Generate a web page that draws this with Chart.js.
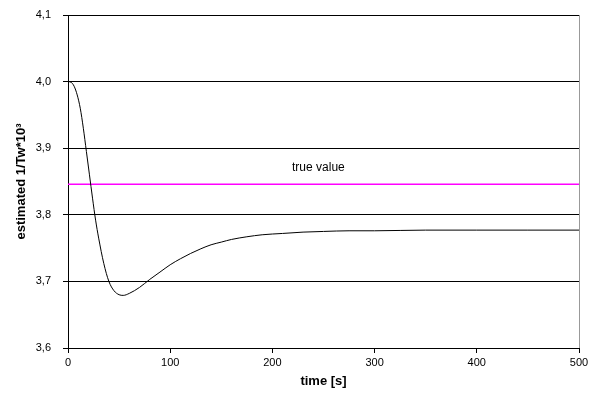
<!DOCTYPE html>
<html>
<head>
<meta charset="utf-8">
<script src="https://cdn.jsdelivr.net/npm/chart.js@4"></script>
<style>
  html, body { margin: 0; padding: 0; background: #fff; }
  #wrap { width: 599px; height: 403px; }
</style>
</head>
<body>
<div id="wrap"><canvas id="myChart" width="599" height="403"></canvas></div>
<script>
// estimate of 1/Tw*10^3 over time
var times = [0, 3, 6, 9, 12, 15, 18, 21, 24, 27, 30, 35, 40, 45, 50, 54, 60, 70, 80, 90,
             100, 110, 120, 130, 140, 150, 160, 175, 190, 210, 230, 250, 275, 300, 350, 400, 450, 500];
var estimate = [4.000, 3.999, 3.993, 3.980, 3.960, 3.930, 3.895, 3.860, 3.825, 3.792, 3.765, 3.727, 3.700, 3.686, 3.680, 3.679, 3.682, 3.691, 3.703, 3.714,
                3.725, 3.734, 3.742, 3.749, 3.755, 3.759, 3.763, 3.767, 3.770, 3.772, 3.774, 3.775, 3.776, 3.776, 3.777, 3.777, 3.777, 3.777];
var trueValue = 3.846;
var trueLabel = "true value";
var trueLabelAt = [245, 3.870];
var xTicks = [0, 100, 200, 300, 400, 500];
var yTicks = [3.6, 3.7, 3.8, 3.9, 4.0, 4.1];

var pts = times.map(function (t, i) { return {x: t, y: estimate[i]}; });

var extras = {
    id: 'extras',
    afterDatasetsDraw: function (chart) {
        var c = chart.ctx, a = chart.chartArea;
        var xs = chart.scales.x, ys = chart.scales.y;
        c.save();
        // plot border on the right
        c.strokeStyle = '#999';
        c.lineWidth = 1;
        c.beginPath();
        c.moveTo(a.right + 0.5, a.top);
        c.lineTo(a.right + 0.5, a.bottom);
        c.stroke();
        // label of the true value line
        c.fillStyle = '#000';
        c.font = '12px "Liberation Sans", Arial, sans-serif';
        c.textAlign = 'center';
        c.textBaseline = 'middle';
        c.fillText(trueLabel, xs.getPixelForValue(trueLabelAt[0]), ys.getPixelForValue(trueLabelAt[1]));
        c.restore();
    }
};

var ctx = document.getElementById("myChart");
var myChart = new Chart(ctx, {
    type: 'line',
    data: {
        datasets: [{
            data: pts,
            borderColor: '#000',
            borderWidth: 1,
            pointRadius: 0,
            cubicInterpolationMode: 'monotone',
            fill: false
        }, {
            data: [{x: 0, y: trueValue}, {x: 500, y: trueValue}],
            borderColor: '#ff00ff',
            borderWidth: 1.5,
            pointRadius: 0,
            fill: false
        }]
    },
    options: {
        responsive: false,
        animation: false,
        layout: { padding: { left: 14, right: 20, top: 15, bottom: 14 } },
        plugins: {
            legend: { display: false },
            tooltip: { enabled: false }
        },
        scales: {
            x: {
                type: 'linear',
                min: 0, max: 500,
                afterBuildTicks: function (s) { s.ticks = xTicks.map(function (v) { return {value: v}; }); },
                afterFit: function (s) { s.height = 41; s.paddingLeft = 0; s.paddingRight = 0; },
                grid: { drawOnChartArea: false, color: '#000', tickLength: 5 },
                border: { color: '#000' },
                ticks: {
                    color: '#000', padding: 3, maxRotation: 0,
                    font: { family: '"Liberation Sans", Arial, sans-serif', size: 11 }
                },
                title: {
                    display: true, text: 'time [s]', color: '#000', padding: { top: 2, bottom: 0 },
                    font: { family: '"Liberation Sans", Arial, sans-serif', size: 13, weight: 'bold' }
                }
            },
            y: {
                min: 3.6, max: 4.1,
                afterBuildTicks: function (s) { s.ticks = yTicks.map(function (v) { return {value: v}; }); },
                afterFit: function (s) { s.width = 54; s.paddingTop = 0; s.paddingBottom = 0; },
                grid: { color: '#000', tickLength: 5 },
                border: { color: '#000' },
                ticks: {
                    color: '#000', padding: 12,
                    callback: function (v) { return v.toFixed(1).replace('.', ','); },
                    font: { family: '"Liberation Sans", Arial, sans-serif', size: 11 }
                },
                title: {
                    display: true, text: 'estimated 1/Tw*10³', color: '#000', padding: { top: 0, bottom: 2 },
                    font: { family: '"Liberation Sans", Arial, sans-serif', size: 13, weight: 'bold' }
                }
            }
        }
    },
    plugins: [extras]
});
</script>
</body>
</html>
